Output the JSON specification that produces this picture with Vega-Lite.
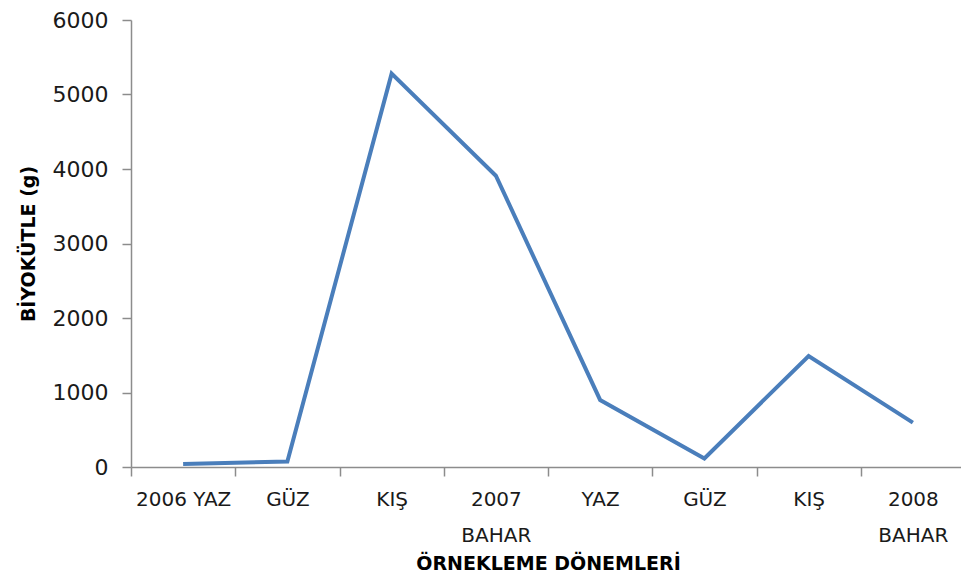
{
  "$schema": "https://vega.github.io/schema/vega-lite/v6.json",
  "autosize": "none",
  "width": 834,
  "height": 447,
  "padding": {"left": 131, "top": 20, "right": 0, "bottom": 113},
  "background": "white",
  "config": {
    "view": {"stroke": null},
    "font": "DejaVu Sans",
    "axis": {
      "grid": false,
      "domainColor": "#8c8c8c",
      "tickColor": "#8c8c8c",
      "domainWidth": 1.5,
      "tickWidth": 1.5,
      "labelColor": "#1a1a1a",
      "titleColor": "#000000",
      "labelFont": "DejaVu Sans",
      "titleFont": "DejaVu Sans"
    }
  },
  "data": {
    "values": [
      {"donem": "2006 YAZ", "biyokutle": 40},
      {"donem": "2006 GÜZ", "biyokutle": 75},
      {"donem": "2006 KIŞ", "biyokutle": 5280},
      {"donem": "2007 BAHAR", "biyokutle": 3910},
      {"donem": "2007 YAZ", "biyokutle": 900},
      {"donem": "2007 GÜZ", "biyokutle": 115},
      {"donem": "2007 KIŞ", "biyokutle": 1490},
      {"donem": "2008 BAHAR", "biyokutle": 595}
    ]
  },
  "mark": {"type": "line", "color": "#4A7EBB", "strokeWidth": 4},
  "encoding": {
    "x": {
      "field": "donem",
      "type": "ordinal",
      "sort": null,
      "bandPosition": 0.5,
      "scale": {"type": "band", "paddingInner": 0, "paddingOuter": 0},
      "axis": {
        "title": "ÖRNEKLEME DÖNEMLERİ",
        "titleFontSize": 19,
        "titleFontWeight": "bold",
        "titlePadding": 9,
        "labelAngle": 0,
        "labelFontSize": 20,
        "labelPadding": 13,
        "labelLineHeight": 36,
        "tickBand": "extent",
        "tickSize": 9,
        "labelExpr": "!isString(datum.value) ? '' : datum.value == '2007 BAHAR' ? ['2007', 'BAHAR'] : datum.value == '2008 BAHAR' ? ['2008', 'BAHAR'] : datum.value == '2006 YAZ' ? '2006 YAZ' : substring(datum.value, 5)"
      }
    },
    "y": {
      "field": "biyokutle",
      "type": "quantitative",
      "scale": {"domain": [0, 6000], "nice": false},
      "axis": {
        "title": "BİYOKÜTLE (g)",
        "titleFontSize": 19,
        "titleFontWeight": "bold",
        "titlePadding": 14,
        "format": "d",
        "values": [0, 1000, 2000, 3000, 4000, 5000, 6000],
        "labelFontSize": 22,
        "labelPadding": 14,
        "tickSize": 9
      }
    }
  }
}
